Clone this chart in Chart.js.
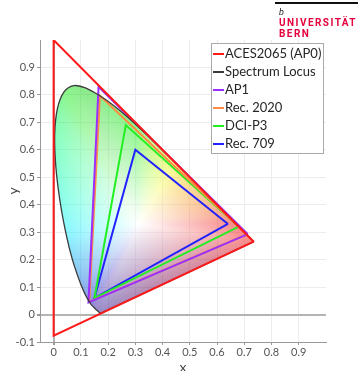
<!DOCTYPE html>
<html>
<head>
<meta charset="utf-8">
<script src="https://cdn.jsdelivr.net/npm/chart.js@4.4.1/dist/chart.umd.min.js"></script>
<style>
  html, body { margin: 0; background: #fff; }
  #wrap { position: relative; width: 358px; height: 371px; }
  .logo { position: absolute; left: 275px; top: 2px; width: 83px; border-top: 2px solid #111; font-family: Roboto, sans-serif; }
  .logo .b { font-style: italic; font-size: 9px; color: #222; margin: 4px 0 0 4px; line-height: 9px; }
  .logo .u { font-weight: bold; font-size: 10px; letter-spacing: 1.45px; color: #e4003c; margin-left: 4px; line-height: 11px; }
</style>
</head>
<body>
<div id="wrap">
  <canvas id="chart"></canvas>
  <div class="logo">
    <div class="b">b</div>
    <div class="u">UNIVERSITÄT</div>
    <div class="u">BERN</div>
  </div>
</div>
<script>
// CIE 1931 spectrum locus
const locusNm = [380, 385, 390, 395, 400, 405, 410, 415, 420, 425,
  430, 435, 440, 445, 450, 455, 460, 465, 470, 475,
  480, 485, 490, 495, 500, 505, 510, 515, 520, 525,
  530, 535, 540, 545, 550, 555, 560, 565, 570, 575,
  580, 585, 590, 595, 600, 605, 610, 615, 620, 625,
  630, 635, 640, 645, 650, 655, 660, 665, 670, 680, 700]
const locusX = [0.1741, 0.1740, 0.1738, 0.1736, 0.1733, 0.1730, 0.1726, 0.1721, 0.1714, 0.1703,
  0.1689, 0.1669, 0.1644, 0.1611, 0.1566, 0.1510, 0.1440, 0.1355, 0.1241, 0.1096,
  0.0913, 0.0687, 0.0454, 0.0235, 0.0082, 0.0039, 0.0139, 0.0389, 0.0743, 0.1142,
  0.1547, 0.1929, 0.2296, 0.2658, 0.3016, 0.3373, 0.3731, 0.4087, 0.4441, 0.4788,
  0.5125, 0.5448, 0.5752, 0.6029, 0.6270, 0.6482, 0.6658, 0.6801, 0.6915, 0.7006,
  0.7079, 0.7140, 0.7190, 0.7230, 0.7260, 0.7283, 0.7300, 0.7311, 0.7320, 0.7334, 0.7347]
const locusY = [0.0050, 0.0050, 0.0049, 0.0049, 0.0048, 0.0048, 0.0048, 0.0048, 0.0051, 0.0058,
  0.0069, 0.0086, 0.0109, 0.0138, 0.0177, 0.0227, 0.0297, 0.0399, 0.0578, 0.0868,
  0.1327, 0.2007, 0.2950, 0.4127, 0.5384, 0.6548, 0.7502, 0.8120, 0.8338, 0.8262,
  0.8059, 0.7816, 0.7543, 0.7243, 0.6923, 0.6589, 0.6245, 0.5896, 0.5547, 0.5202,
  0.4866, 0.4544, 0.4242, 0.3965, 0.3725, 0.3514, 0.3340, 0.3197, 0.3083, 0.2993,
  0.2920, 0.2859, 0.2809, 0.2770, 0.2740, 0.2717, 0.2700, 0.2689, 0.2680, 0.2666, 0.2653]
const whitePoint = [0.3127, 0.3290]

// primaries as [x, y]: red, green, blue
const ap0 = [[0.7347, 0.2653], [0.0, 1.0], [0.0001, -0.077]]
const ap1 = [[0.713, 0.293], [0.165, 0.830], [0.128, 0.044]]
const rec2020 = [[0.708, 0.292], [0.170, 0.797], [0.131, 0.046]]
const dciP3 = [[0.680, 0.320], [0.265, 0.690], [0.150, 0.060]]
const rec709 = [[0.640, 0.330], [0.300, 0.600], [0.150, 0.060]]

const xTicks = [0, 0.1, 0.2, 0.3, 0.4, 0.5, 0.6, 0.7, 0.8, 0.9]
const yTicks = [-0.1, 0, 0.1, 0.2, 0.3, 0.4, 0.5, 0.6, 0.7, 0.8, 0.9]

const closed = (pts) => [...pts, pts[0]].map(([x, y]) => ({ x, y }))
const locus = locusX.map((x, i) => ({ x, y: locusY[i] }))
locus.push(locus[0])

const line = (label, data, color, width, tension = 0) => ({
  label, data, borderColor: color, backgroundColor: color, borderWidth: width,
  showLine: true, fill: false, pointRadius: 0, tension,
})

// xy chromaticity -> display sRGB (0..255), brightest channel at full
function xyToRgb(x, y) {
  const X = x / y, Z = (1 - x - y) / y
  let r = 3.2406 * X - 1.5372 - 0.4986 * Z
  let g = -0.9689 * X + 1.8758 + 0.0415 * Z
  let b = 0.0557 * X - 0.2040 + 1.0570 * Z
  r = Math.max(r, 0); g = Math.max(g, 0); b = Math.max(b, 0)
  const m = Math.max(r, g, b) || 1
  const enc = (v) => (v <= 0.0031308 ? 12.92 * v : 1.055 * Math.pow(v, 1 / 2.4) - 0.055) * 255
  return [enc(r / m), enc(g / m), enc(b / m)]
}

// dimmer ends of the spectrum, like the reference rendering
function shade(nm) {
  const knots = [[380, 0.5], [450, 0.55], [490, 1], [505, 1], [525, 0.82], [560, 0.97], [600, 0.95], [700, 0.92]]
  for (let i = 1; i < knots.length; i++) {
    const [a, fa] = knots[i - 1], [b, fb] = knots[i]
    if (nm <= b) return fa + (fb - fa) * (nm - a) / (b - a)
  }
  return knots[knots.length - 1][1]
}

// Gouraud-like fan: white at the white point, spectral colour at the locus
function fanColour(px, py, verts, cols) {
  const [wx, wy] = whitePoint
  const dx = px - wx, dy = py - wy
  const n = verts.length
  for (let i = 0; i < n; i++) {
    const [ax, ay] = verts[i], [bx, by] = verts[(i + 1) % n]
    const ex = bx - ax, ey = by - ay
    const den = dx * ey - dy * ex
    if (Math.abs(den) < 1e-12) continue
    const u = ((ax - wx) * ey - (ay - wy) * ex) / den
    const s = ((ax - wx) * dy - (ay - wy) * dx) / den
    if (u > 0 && s >= 0 && s <= 1) {
      const t = Math.min(1 / u, 1)
      const ca = cols[i], cb = cols[(i + 1) % n]
      return [0, 1, 2].map((k) => 255 * (1 - t) + t * (ca[k] * (1 - s) + cb[k] * s))
    }
  }
  return [255, 255, 255]
}

// paints the chromaticity colours inside the locus outline
const locusFill = {
  id: "locusFill",
  beforeDatasetsDraw(chart) {
    const { ctx, chartArea: a, scales } = chart
    const w = Math.round(a.right - a.left), h = Math.round(a.bottom - a.top)
    if (!this.img || this.img.width !== w || this.img.height !== h) {
      const verts = locusX.map((x, i) => [x, locusY[i]])
      const cols = verts.map(([x, y], i) => {
        const c = xyToRgb(x, y).map((v) => v * shade(locusNm[i]))
        // the violet end reads bluer in the reference
        if (locusNm[i] < 450) c[0] *= 0.6
        return c
      })
      this.img = document.createElement("canvas")
      this.img.width = w; this.img.height = h
      const ic = this.img.getContext("2d")
      const id = ic.createImageData(w, h)
      for (let j = 0; j < h; j++) {
        const yv = scales.y.getValueForPixel(a.top + j + 0.5)
        for (let i = 0; i < w; i++) {
          const xv = scales.x.getValueForPixel(a.left + i + 0.5)
          const k = (j * w + i) * 4
          if (yv < -0.01 || xv < -0.01) continue
          const [r, g, b] = fanColour(xv, yv, verts, cols)
          id.data[k] = r; id.data[k + 1] = g; id.data[k + 2] = b; id.data[k + 3] = 255
        }
      }
      ic.putImageData(id, 0, 0)
    }
    // clip to the same smoothed outline the locus line is drawn with
    const pts = chart.getDatasetMeta(1).data
    ctx.save()
    ctx.beginPath()
    ctx.moveTo(pts[0].x, pts[0].y)
    for (let i = 1; i < pts.length; i++) {
      const p = pts[i - 1], c = pts[i]
      ctx.bezierCurveTo(p.cp2x ?? p.x, p.cp2y ?? p.y, c.cp1x ?? c.x, c.cp1y ?? c.y, c.x, c.y)
    }
    ctx.closePath()
    ctx.clip()
    ctx.globalAlpha = 0.46
    ctx.drawImage(this.img, a.left, a.top)
    ctx.restore()
  },
}

// legend box floating in the upper right of the plot
const boxLegend = {
  id: "boxLegend",
  afterDraw(chart) {
    const { ctx } = chart
    const left = 211, top = 43, w = 112, h = 110, rowH = 18
    ctx.save()
    ctx.fillStyle = "#fff"
    ctx.fillRect(left, top, w, h)
    ctx.strokeStyle = "#aaa"
    ctx.lineWidth = 1
    ctx.strokeRect(left + 0.5, top + 0.5, w, h)
    ctx.font = "13px Lato"
    ctx.textBaseline = "middle"
    chart.data.datasets.forEach((ds, i) => {
      const cy = top + 11 + i * rowH
      ctx.strokeStyle = ds.borderColor
      ctx.lineWidth = 2
      ctx.beginPath(); ctx.moveTo(left + 2, cy); ctx.lineTo(left + 13, cy); ctx.stroke()
      ctx.fillStyle = "#262626"
      ctx.fillText(ds.label, left + 14, cy)
    })
    ctx.restore()
  },
}

const gridColor = (c) => (c.tick && c.tick.value === 0 ? "#b4b4b4" : "#ececec")
const gridWidth = (c) => (c.tick && c.tick.value === 0 ? 2 : 1)

new Chart(document.getElementById("chart"), {
  type: "scatter",
  data: {
    datasets: [
      line("ACES2065 (AP0)", closed(ap0), "#ff1a1a", 2),
      line("Spectrum Locus", locus, "#3a3a3a", 1.3, 0.3),
      line("AP1", closed(ap1), "#9a30ff", 2),
      line("Rec. 2020", closed(rec2020), "#ff8c42", 2),
      line("DCI-P3", closed(dciP3), "#22ee22", 2),
      line("Rec. 709", closed(rec709), "#2222ff", 2),
    ],
  },
  options: {
    responsive: true,
    maintainAspectRatio: false,
    animation: false,
    layout: { padding: { top: 40, right: 32, left: 0, bottom: 0 } },
    plugins: { legend: { display: false }, tooltip: { enabled: false } },
    scales: {
      x: {
        type: "linear", min: -0.05, max: 1.0,
        afterBuildTicks: (s) => { s.ticks = xTicks.map((value) => ({ value })) },
        afterFit: (s) => { s.height = 29 },
        grid: { color: gridColor, lineWidth: gridWidth, tickColor: "#999", tickLength: 3 },
        border: { color: "#999" },
        ticks: { color: "#555", font: { family: "Lato", size: 11 }, padding: 1, maxRotation: 0, callback: (v) => String(v) },
        title: { display: true, text: "x", color: "#444", font: { family: "Lato", size: 14, lineHeight: 1 }, padding: { top: 0, bottom: -3 } },
      },
      y: {
        type: "linear", min: -0.1, max: 1.0,
        afterBuildTicks: (s) => { s.ticks = yTicks.map((value) => ({ value })) },
        afterFit: (s) => { s.width = 40 },
        grid: { color: gridColor, lineWidth: gridWidth, tickColor: "#999", tickLength: 3 },
        border: { color: "#999" },
        ticks: { color: "#555", font: { family: "Lato", size: 11 }, padding: 2, callback: (v) => String(v) },
        title: { display: true, text: "y", color: "#444", font: { family: "Lato", size: 14, lineHeight: 1 }, padding: { top: 6, bottom: 0 } },
      },
    },
  },
  plugins: [locusFill, boxLegend],
})
</script>
</body>
</html>
